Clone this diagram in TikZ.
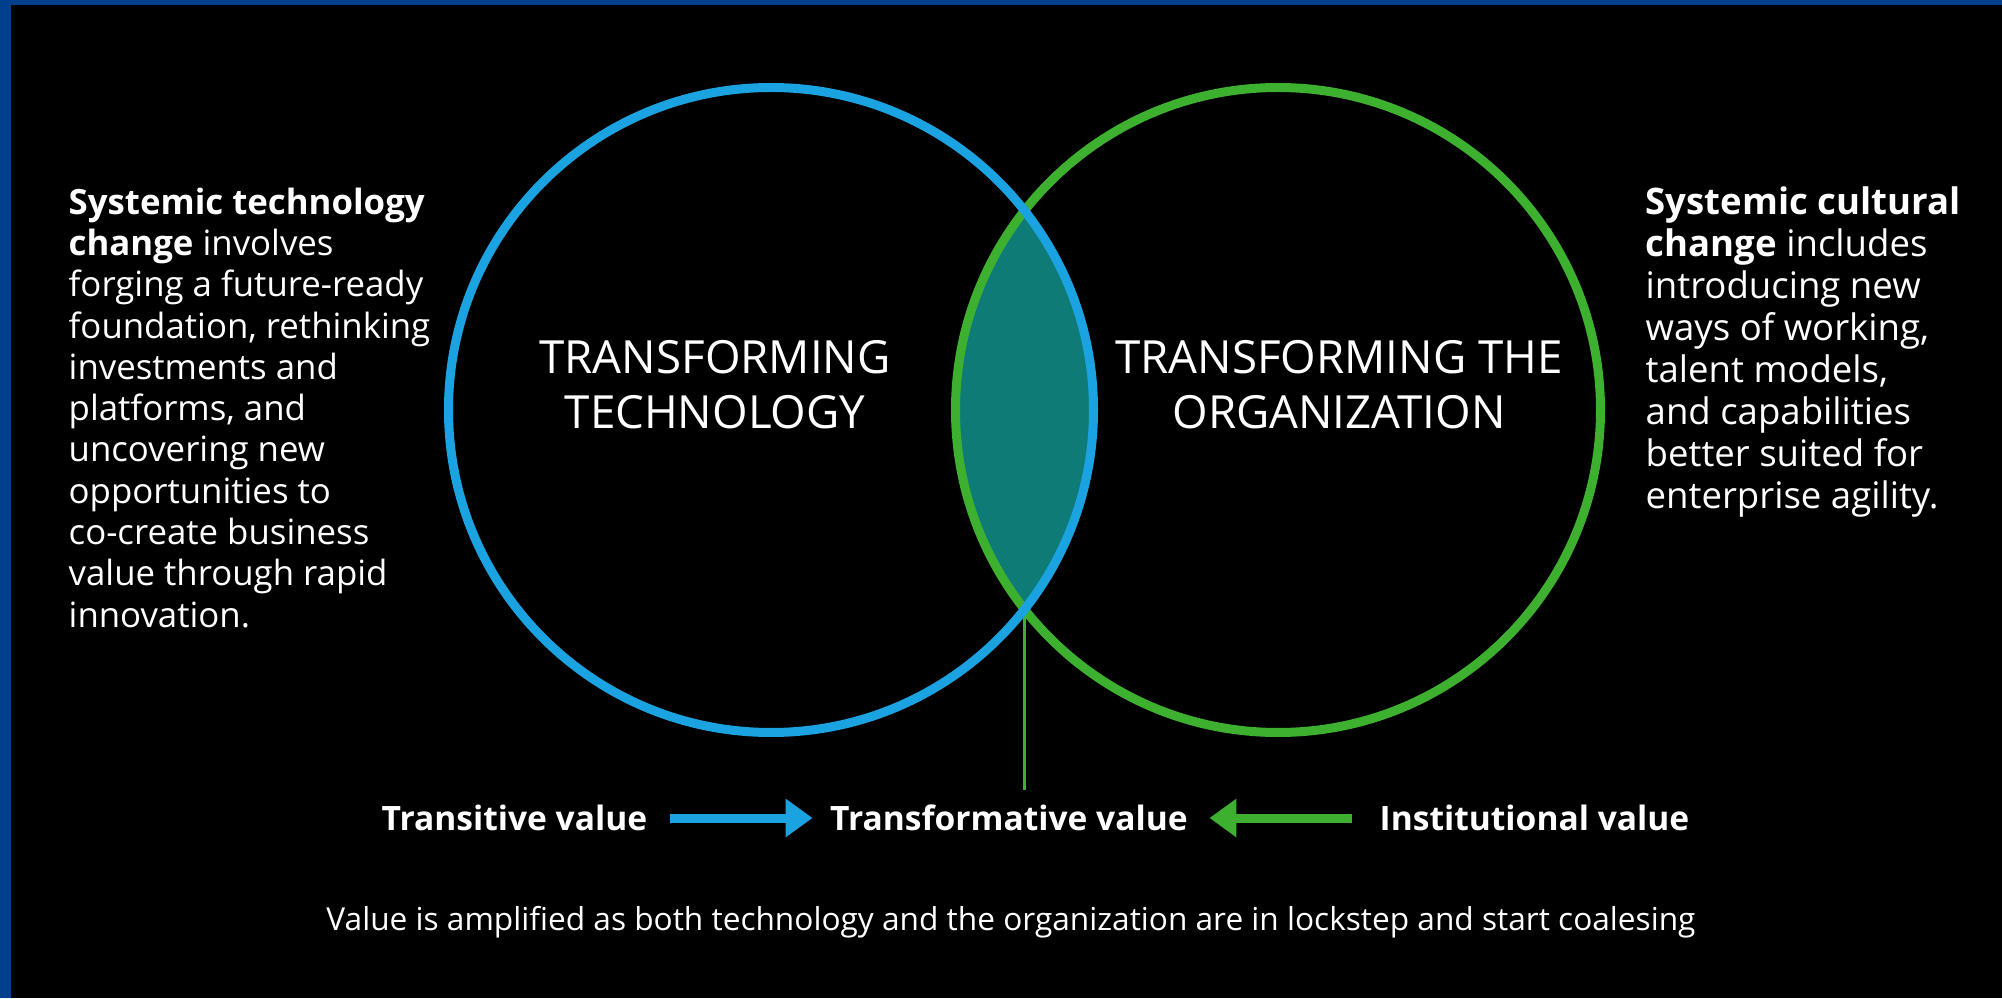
\documentclass[tikz,border=0pt]{standalone}
\usepackage{fontspec}
\setmainfont{Open Sans}
\usetikzlibrary{arrows.meta}
\definecolor{frameblue}{RGB}{0,63,140}
\definecolor{techblue}{RGB}{26,163,224}
\definecolor{orggreen}{RGB}{61,176,47}
\definecolor{lensteal}{RGB}{15,123,119}

\begin{document}
\begin{tikzpicture}
    [every node/.style={text=white, inner sep=0pt},
     para/.style={anchor=north west, align=left},
     big/.style={align=center, font=\fontsize{13}{15.6}\selectfont},
     val/.style={font=\fontsize{9.55}{11}\selectfont\bfseries},
     ring/.style={circle, line width=0.09cm, minimum size=6.45cm},
     fat/.style={line width=0.09cm, -{Triangle[width=0.37cm,length=0.27cm]}}]
  \useasboundingbox (0,0) rectangle (20.02,9.98);
  \fill[black] (0,0) rectangle (20.02,9.98);
  \fill[frameblue] (0,0) rectangle (0.11,9.98);
  \fill[frameblue] (0,9.93) rectangle (20.02,9.98);

  % overlap of the two circles
  \begin{scope}
    \clip (7.71,5.88) circle (3.225);
    \fill[lensteal] (12.78,5.88) circle (3.225);
  \end{scope}
  \coordinate (lensbot) at (10.245,3.89);
  \coordinate (stem) at (10.245,2.08);
  \draw[orggreen, line width=0.035cm] (lensbot) -- (stem);

  \node[ring, draw=orggreen] (org) at (12.78,5.88) {};
  \node[ring, draw=techblue] (tech) at (7.71,5.88) {};

  \node[big] (techlbl) at (7.15,6.13) {TRANSFORMING\\TECHNOLOGY};
  \node[big] (orglbl) at (13.39,6.13) {TRANSFORMING THE\\ORGANIZATION};

  \node[para, font=\fontsize{9.9}{11.75}\selectfont] (techtxt) at (0.68,8.11) {\textbf{Systemic technology}\\\textbf{change} involves\\forging a future-ready\\foundation, rethinking\\investments and\\platforms, and\\uncovering new\\opportunities to\\co-create business\\value through rapid\\innovation.};
  \node[para, font=\fontsize{10.4}{11.95}\selectfont] (orgtxt) at (16.45,8.12) {\textbf{Systemic cultural}\\\textbf{change} includes\\introducing new\\ways of working,\\talent models,\\and capabilities\\better suited for\\enterprise agility.};

  % value row
  \node[val] (transform) at (10.09,1.80) {Transformative value};
  \node[val] (transit) at (5.145,1.80) {Transitive value};
  \node[val] (instit) at (15.345,1.80) {Institutional value};
  \draw[fat, techblue, shorten <=0.22cm, shorten >=0.17cm] (transit) -- (transform);
  \draw[fat, orggreen, shorten <=0.27cm, shorten >=0.21cm] (instit) -- (transform);

  \node[font=\fontsize{9}{11}\selectfont] (note) at (10.11,0.76) {Value is amplified as both technology and the organization are in lockstep and start coalesing};
\end{tikzpicture}
\end{document}
